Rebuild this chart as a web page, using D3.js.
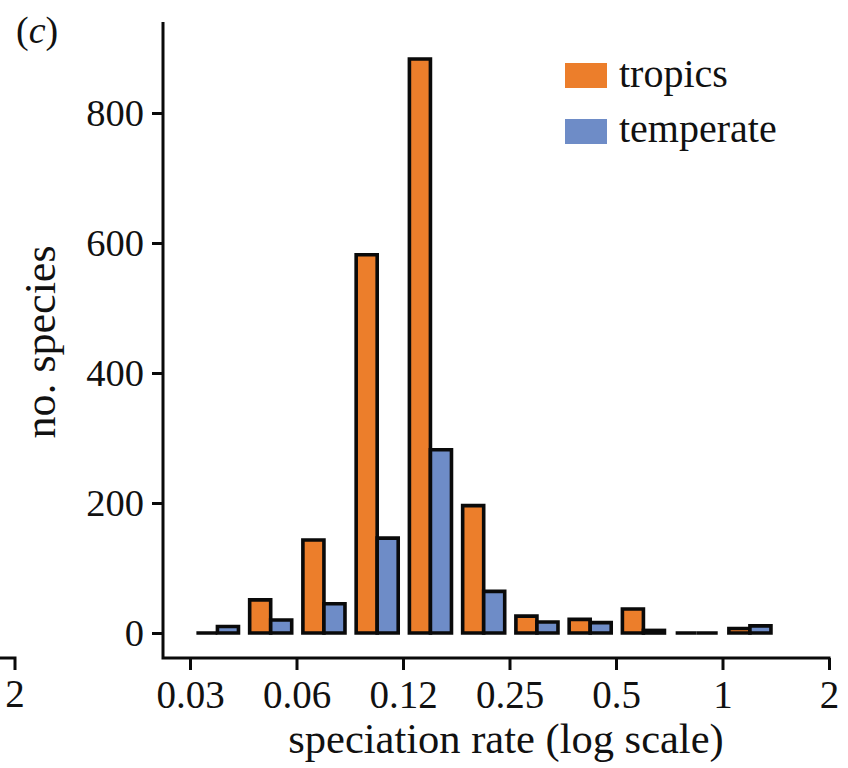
<!DOCTYPE html>
<html>
<head>
<meta charset="utf-8">
<script src="https://cdn.jsdelivr.net/npm/d3@7"></script>
<style>
  html, body { margin: 0; padding: 0; background: #fff; }
  svg { display: block; }
  svg text { font-family: "Liberation Serif", "Tinos", "Times New Roman", "Nimbus Roman", "DejaVu Serif", serif; fill: #111; }
</style>
</head>
<body>
<svg id="chart" width="848" height="768"></svg>
<script>
// Histogram bins of speciation rate (half-doubling bins on a log2 axis)
const binLower = [0.03125, 0.0442, 0.0625, 0.0884, 0.125, 0.1768, 0.25, 0.3536, 0.5, 0.7071, 1.0];
const binUpper = [0.0442, 0.0625, 0.0884, 0.125, 0.1768, 0.25, 0.3536, 0.5, 0.7071, 1.0, 1.4142];

// Number of species per bin
const tropics   = [0, 51, 143, 582, 883, 196, 26, 21, 37, 0, 7];
const temperate = [10, 20, 45, 146, 282, 64, 17, 16, 4, 0, 11];

const seriesNames = ["tropics", "temperate"];
const seriesColors = ["#EC7E2B", "#6E8CC7"];

const xTickValues = [0.03125, 0.0625, 0.125, 0.25, 0.5, 1, 2];
const xTickLabels = ["0.03", "0.06", "0.12", "0.25", "0.5", "1", "2"];
const yTickValues = [0, 200, 400, 600, 800];

const svg = d3.select("#chart");

const x = d3.scaleLog().base(2).domain([0.03125, 2]).range([190, 829]);
const y = d3.scaleLinear().domain([0, 940]).range([633, 22]);

const axisX = 163, axisY = 658;
const black = "#0a0a0a";

// Bars, drawn as closed paths so empty bins still show their outline
const rows = binLower.map((lo, i) => ({ lo, hi: binUpper[i], vals: [tropics[i], temperate[i]] }));
const barFrac = 0.395;
const g = svg.append("g");
rows.forEach(r => {
  const x0 = x(r.lo), x1 = x(r.hi);
  const w = (x1 - x0) * barFrac;
  const mid = (x0 + x1) / 2 + 0.8;
  r.vals.forEach((v, k) => {
    const left = k === 0 ? mid - w : mid;
    const p = d3.path();
    p.rect(left, y(v), w, y(0) - y(v));
    g.append("path")
      .attr("d", p.toString())
      .attr("fill", seriesColors[k])
      .attr("stroke", black)
      .attr("stroke-width", 3.6)
      .attr("stroke-linejoin", "miter");
  });
});

// Y axis
const yAxis = svg.append("g")
  .attr("transform", `translate(${axisX},0)`)
  .call(d3.axisLeft(y).tickValues(yTickValues).tickSize(11).tickPadding(8).tickFormat(d3.format("d")));
yAxis.attr("font-family", null);
yAxis.select(".domain").remove();
yAxis.selectAll(".tick line").attr("stroke", black).attr("stroke-width", 3);
yAxis.selectAll(".tick text").attr("font-size", 38.5);

// X axis
const xAxis = svg.append("g")
  .attr("transform", `translate(0,${axisY})`)
  .call(d3.axisBottom(x).tickValues(xTickValues).tickSize(12).tickPadding(10)
    .tickFormat((d, i) => xTickLabels[i]));
xAxis.attr("font-family", null);
xAxis.select(".domain").remove();
xAxis.selectAll(".tick line").attr("stroke", black).attr("stroke-width", 3);
xAxis.selectAll(".tick text").attr("font-size", 39);

// Axis frame (L-shaped)
svg.append("path")
  .attr("d", `M${axisX},22 V${axisY} H${x(2) + 1.5}`)
  .attr("fill", "none")
  .attr("stroke", black)
  .attr("stroke-width", 3)
  .attr("stroke-linecap", "butt");

// Edge of the neighbouring panel's x axis
svg.append("path")
  .attr("d", `M0,${axisY} H15 V${axisY + 12}`)
  .attr("fill", "none")
  .attr("stroke", black)
  .attr("stroke-width", 3);
svg.append("text")
  .attr("x", 15).attr("y", 707)
  .attr("text-anchor", "middle")
  .attr("font-size", 39)
  .text("2");

// Axis titles
svg.append("text")
  .attr("x", 506).attr("y", 753)
  .attr("text-anchor", "middle")
  .attr("font-size", 42.5)
  .text("speciation rate (log scale)");

svg.append("text")
  .attr("transform", "translate(55,342) rotate(-90)")
  .attr("text-anchor", "middle")
  .attr("font-size", 44)
  .text("no. species");

// Panel label
const lab = svg.append("text").attr("x", 16).attr("y", 43).attr("font-size", 38);
lab.append("tspan").text("(");
lab.append("tspan").attr("font-style", "italic").text("c");
lab.append("tspan").text(")");

// Legend
const legend = svg.append("g");
seriesNames.forEach((name, i) => {
  legend.append("rect")
    .attr("x", 565).attr("y", 63 + i * 56)
    .attr("width", 42).attr("height", 25)
    .attr("fill", seriesColors[i]);
  legend.append("text")
    .attr("x", 619).attr("y", 87 + i * 55)
    .attr("font-size", 40)
    .text(name);
});
</script>
</body>
</html>
